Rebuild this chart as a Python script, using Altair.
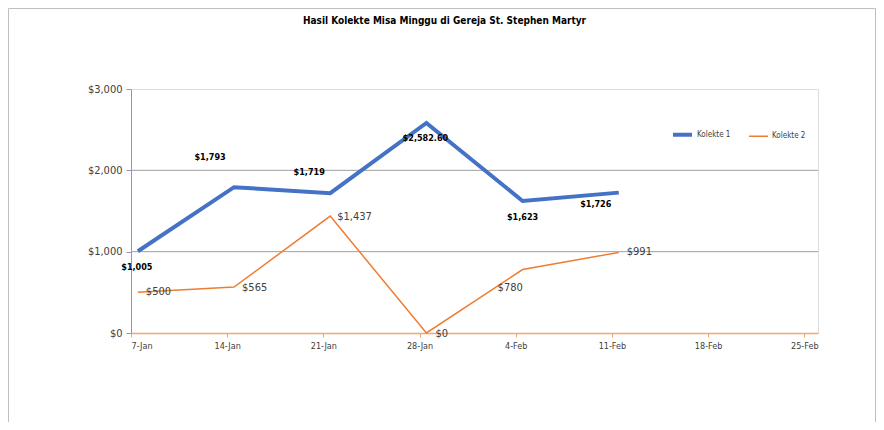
import altair as alt
import pandas as pd

# ---- data ----
dates = ["2018-01-07T12:00", "2018-01-14T12:00", "2018-01-21T12:00",
         "2018-01-28T12:00", "2018-02-04T12:00", "2018-02-11T12:00"]
kolekte1 = [1005, 1793, 1719, 2582.60, 1623, 1726]
kolekte2 = [500, 565, 1437, 0, 780, 991]
series = ["Kolekte 1", "Kolekte 2"]
tick_days = [(1, 7), (1, 14), (1, 21), (1, 28), (2, 4), (2, 11), (2, 18), (2, 25)]
y_ticks = [0, 1000, 2000, 3000]
y_grid = [1000, 2000]
title_text = "Hasil Kolekte Misa Minggu di Gereja St. Stephen Martyr"

NARROW = "Liberation Sans Narrow, DejaVu Sans Condensed, Arial Narrow, sans-serif"
BORDER = "#f2a772"


def fmt(v):
    if float(v).is_integer():
        return "${:,.0f}".format(v)
    return "${:,.2f}".format(v)


rows = []
for i, d in enumerate(dates):
    rows.append({"date": d, "value": kolekte1[i], "series": series[0], "idx": i, "label": fmt(kolekte1[i])})
for i, d in enumerate(dates):
    rows.append({"date": d, "value": kolekte2[i], "series": series[1], "idx": i, "label": fmt(kolekte2[i])})
df = pd.DataFrame(rows)

tick_values = [alt.DateTime(year=2018, month=m, date=d) for m, d in tick_days]
x_scale = alt.Scale(domain=[alt.DateTime(year=2018, month=1, date=7),
                            alt.DateTime(year=2018, month=2, date=26)])
y_scale = alt.Scale(domain=[0, 3000])

base = alt.Chart(df)

x_enc = alt.X("date:T", scale=x_scale, title=None,
              axis=alt.Axis(values=tick_values, format="%-d-%b", grid=False,
                            domainColor=BORDER, domainWidth=1.5,
                            tickColor=BORDER, tickSize=4,
                            labelFont=NARROW, labelFontSize=9, labelColor="#404040",
                            labelPadding=4))
y_enc = alt.Y("value:Q", scale=y_scale, title=None,
              axis=alt.Axis(values=y_ticks, format="$,.0f", grid=False,
                            domainColor="#8f94c4", domainWidth=1,
                            tickColor="#8f94c4", tickSize=5,
                            labelFont=NARROW, labelFontSize=11, labelColor="#404040",
                            labelPadding=4))

grid = alt.Chart(pd.DataFrame({"g": y_grid})).mark_rule(
    color="#9f9f9f", strokeWidth=1
).encode(y=alt.Y("g:Q", scale=y_scale))

lines = base.mark_line().encode(
    x=x_enc,
    y=y_enc,
    color=alt.Color("series:N",
                    scale=alt.Scale(domain=series, range=["#4472c4", "#ed7d31"]),
                    legend=alt.Legend(title=None, orient="none", legendX=540, legendY=34,
                                      direction="horizontal", symbolType="stroke",
                                      symbolSize=361, symbolStrokeWidth=3,
                                      labelFont=NARROW, labelFontSize=8,
                                      labelColor="#404040", labelOffset=3,
                                      columnPadding=15)),
    strokeWidth=alt.StrokeWidth("series:N",
                                scale=alt.Scale(domain=series, range=[4, 1.5]),
                                legend=None),
)

# label offsets (layout only)
off1 = [(-1, 16), (-24, -30), (-21, -21), (-1, 15), (0, 16), (-23, 11)]
off2 = [(8, 0), (8, 1), (7, 1), (9, 1), (-25, 18), (8, 0)]

label_layers = []
for i, (dx, dy) in enumerate(off1):
    label_layers.append(
        base.transform_filter(
            (alt.datum.series == series[0]) & (alt.datum.idx == i)
        ).mark_text(dx=dx, dy=dy, align="center", baseline="middle",
                    font=NARROW, fontSize=9, fontWeight="bold", color="#000000"
        ).encode(x="date:T", y="value:Q", text="label:N")
    )
for i, (dx, dy) in enumerate(off2):
    label_layers.append(
        base.transform_filter(
            (alt.datum.series == series[1]) & (alt.datum.idx == i)
        ).mark_text(dx=dx, dy=dy, align="left", baseline="middle",
                    font=NARROW, fontSize=11, color="#404040"
        ).encode(x="date:T", y="value:Q", text="label:N")
    )

frame = alt.Chart(pd.DataFrame({"a": [0]})).mark_rect(
    filled=False, stroke="#bfbfbf", strokeWidth=1
).encode(x=alt.value(-122.5), x2=alt.value(744.5), y=alt.value(-80.5), y2=alt.value(420))

chart = alt.layer(frame, grid, lines, *label_layers).properties(
    width=687,
    height=244,
    title=alt.TitleParams(title_text, font=NARROW, fontSize=10, fontWeight="bold",
                          color="#000000", anchor="middle", dx=-30, offset=-18),
    autosize=alt.AutoSizeParams(type="none"),
    padding={"left": 123, "top": 81, "right": 58, "bottom": 89},
).configure_view(
    stroke=BORDER, strokeWidth=1.5
).configure(background="white")

chart.save("out.html", embed_options={"renderer": "svg", "actions": False})
